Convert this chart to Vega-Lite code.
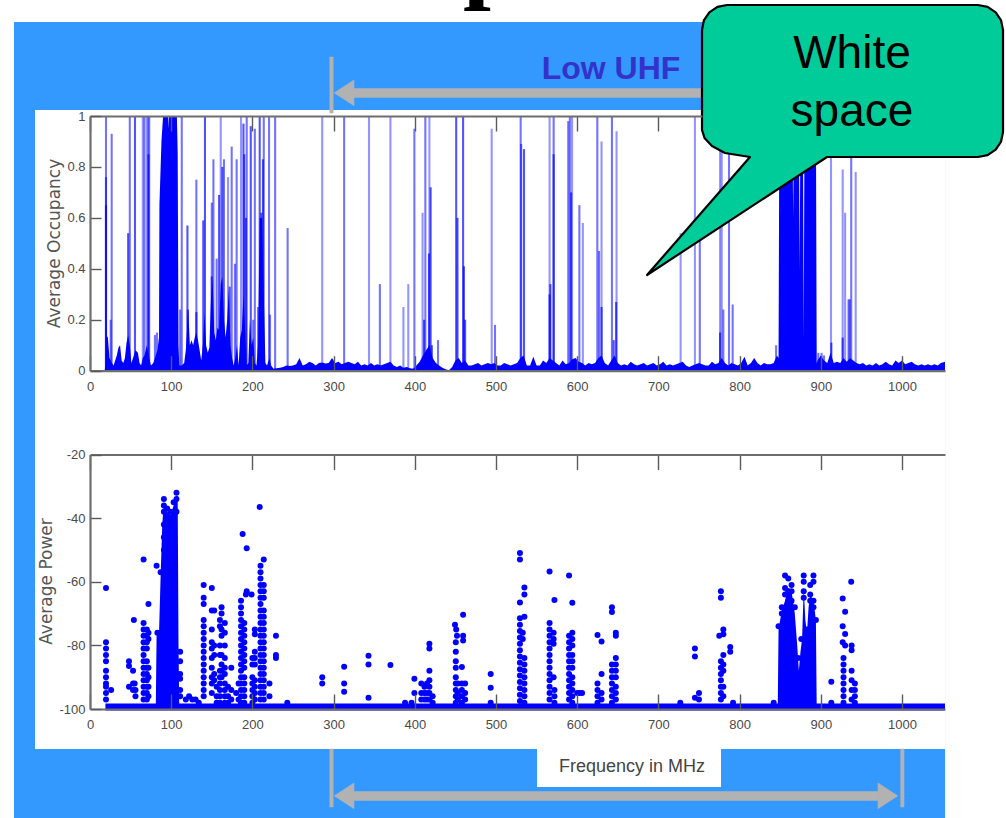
{"$schema":"https://vega.github.io/schema/vega-lite/v6.json","width":1006,"height":818,"padding":0,"autosize":{"type":"none"},"background":"#ffffff","config":{"view":{"stroke":null},"axis":{"grid":false,"labelFlush":false,"domainColor":"#6e6e6e","domainWidth":2.2,"tickColor":"#5a5a5a","tickWidth":1.4,"labelColor":"#4a4a4a","labelFont":"Liberation Sans","labelFontSize":13,"titleColor":"#555555","titleFont":"DejaVu Sans","titleFontSize":17,"titleFontWeight":"normal"}},
"datasets":{
"panels":[{"n":"page","x":-93.6,"x2":1053,"y":1.369,"y2":-1.7562},{"n":"plot","x":-67.7,"x2":1053,"y":1.0236,"y2":-1.4853},{"n":"label","x":550.5,"x2":777.1,"y":-1.4853,"y2":-1.6344}],
"guides":[
{"s":"v1","i":1,"x":295,"y":1.2317},{"s":"v1","i":2,"x":299.5,"y":1.2317},{"s":"v1","i":3,"x":299.5,"y":1.0118},{"s":"v1","i":4,"x":295,"y":1.0118},
{"s":"v2","i":1,"x":295,"y":-1.4853},{"s":"v2","i":2,"x":299.5,"y":-1.4853},{"s":"v2","i":3,"x":299.5,"y":-1.713},{"s":"v2","i":4,"x":295,"y":-1.713},
{"s":"v3","i":1,"x":998,"y":-1.4853},{"s":"v3","i":2,"x":1002.5,"y":-1.4853},{"s":"v3","i":3,"x":1002.5,"y":-1.713},{"s":"v3","i":4,"x":998,"y":-1.713},
{"s":"s1","i":1,"x":325,"y":1.108},{"s":"s1","i":2,"x":780,"y":1.108},{"s":"s1","i":3,"x":780,"y":1.0727},{"s":"s1","i":4,"x":325,"y":1.0727},
{"s":"s2","i":1,"x":325,"y":-1.6522},{"s":"s2","i":2,"x":971,"y":-1.6522},{"s":"s2","i":3,"x":971,"y":-1.6875},{"s":"s2","i":4,"x":325,"y":-1.6875},
{"s":"h1","i":1,"x":300.5,"y":1.0903},{"s":"h1","i":2,"x":325.1,"y":1.1413},{"s":"h1","i":3,"x":325.1,"y":1.0393},
{"s":"h2","i":1,"x":300.5,"y":-1.6696},{"s":"h2","i":2,"x":325.1,"y":-1.6184},{"s":"h2","i":3,"x":325.1,"y":-1.7208},
{"s":"h3","i":1,"x":995.1,"y":-1.6696},{"s":"h3","i":2,"x":970.4,"y":-1.6184},{"s":"h3","i":3,"x":970.4,"y":-1.7208}],
"callout":[{"i":1,"x":784.5,"y":1.4358},{"i":2,"x":1093.6,"y":1.4358},{"i":3,"x":1105.4,"y":1.4283},{"i":4,"x":1115.4,"y":1.4071},{"i":5,"x":1122,"y":1.3754},{"i":6,"x":1124.4,"y":1.3376},{"i":7,"x":1124.4,"y":0.9372},{"i":8,"x":1122,"y":0.8995},{"i":9,"x":1115.4,"y":0.8677},{"i":10,"x":1105.4,"y":0.8465},{"i":11,"x":1093.6,"y":0.839},{"i":12,"x":907.6,"y":0.839},{"i":13,"x":686,"y":0.3757},{"i":14,"x":812.8,"y":0.839},{"i":15,"x":782,"y":0.8547},{"i":16,"x":766,"y":0.8822},{"i":17,"x":756.8,"y":0.9136},{"i":18,"x":753.7,"y":0.945},{"i":19,"x":753.7,"y":1.3376},{"i":20,"x":756,"y":1.3754},{"i":21,"x":762.7,"y":1.4071},{"i":22,"x":772.7,"y":1.4283},{"i":23,"x":784.5,"y":1.4358}],
"occSpikes":[{"f":19.7,"o":1,"k":"b"},{"f":19.7,"o":0.76,"k":"b"},{"f":19.7,"o":0.65,"k":"c"},{"f":25.5,"o":0.2,"k":"b"},{"f":26.7,"o":0.93,"k":"b"},{"f":47,"o":0.54,"k":"c"},{"f":49,"o":1,"k":"b"},{"f":55.4,"o":1,"k":"c"},{"f":65,"o":1,"k":"a"},{"f":67,"o":1,"k":"b"},{"f":70,"o":1,"k":"a"},{"f":72,"o":1,"k":"b"},{"f":72,"o":0.85,"k":"c"},{"f":73,"o":1,"k":"a"},{"f":80,"o":0.14,"k":"b"},{"f":82.5,"o":0.15,"k":"b"},{"f":111,"o":0.24,"k":"b"},{"f":113,"o":1,"k":"b"},{"f":120,"o":0.57,"k":"c"},{"f":120.5,"o":0.24,"k":"c"},{"f":131,"o":0.75,"k":"b"},{"f":131,"o":0.23,"k":"c"},{"f":139.5,"o":0.59,"k":"c"},{"f":141.6,"o":1,"k":"c"},{"f":150,"o":0.66,"k":"b"},{"f":150,"o":0.37,"k":"c"},{"f":152,"o":0.83,"k":"b"},{"f":156,"o":0.44,"k":"b"},{"f":159,"o":0.69,"k":"c"},{"f":161,"o":1,"k":"a"},{"f":163,"o":0.8,"k":"c"},{"f":165,"o":0.83,"k":"b"},{"f":170,"o":0.76,"k":"a"},{"f":172,"o":0.33,"k":"c"},{"f":174.5,"o":0.88,"k":"b"},{"f":178.5,"o":0.42,"k":"b"},{"f":180.6,"o":0.83,"k":"b"},{"f":186,"o":1,"k":"a"},{"f":189,"o":0.97,"k":"c"},{"f":190,"o":0.85,"k":"c"},{"f":192,"o":0.6,"k":"c"},{"f":193,"o":1,"k":"b"},{"f":198,"o":0.96,"k":"c"},{"f":201,"o":0.2,"k":"b"},{"f":203,"o":0.95,"k":"b"},{"f":207,"o":0.25,"k":"b"},{"f":209,"o":1,"k":"c"},{"f":211,"o":0.62,"k":"c"},{"f":213,"o":0.83,"k":"c"},{"f":214,"o":1,"k":"b"},{"f":220.5,"o":1,"k":"b"},{"f":221.7,"o":0.22,"k":"b"},{"f":228,"o":1,"k":"b"},{"f":243.4,"o":0.56,"k":"b"},{"f":286,"o":1,"k":"a"},{"f":313,"o":1,"k":"b"},{"f":343.6,"o":1,"k":"a"},{"f":370,"o":1,"k":"a"},{"f":357,"o":0.34,"k":"b"},{"f":386,"o":0.25,"k":"a"},{"f":392,"o":0.34,"k":"a"},{"f":399.5,"o":0.95,"k":"b"},{"f":409.6,"o":0.62,"k":"a"},{"f":411.5,"o":0.2,"k":"c"},{"f":413,"o":1,"k":"b"},{"f":417.5,"o":0.46,"k":"c"},{"f":418,"o":1,"k":"a"},{"f":419.5,"o":0.72,"k":"c"},{"f":421,"o":0.1,"k":"c"},{"f":428.6,"o":0.12,"k":"b"},{"f":451,"o":1,"k":"c"},{"f":452.6,"o":0.6,"k":"c"},{"f":459.5,"o":1,"k":"c"},{"f":460.5,"o":0.41,"k":"c"},{"f":462,"o":0.2,"k":"c"},{"f":494.7,"o":0.95,"k":"a"},{"f":498.8,"o":0.18,"k":"b"},{"f":530.4,"o":1,"k":"b"},{"f":531,"o":0.89,"k":"b"},{"f":534.5,"o":0.87,"k":"c"},{"f":566,"o":0.3,"k":"c"},{"f":566,"o":1,"k":"a"},{"f":567,"o":0.34,"k":"c"},{"f":571,"o":1,"k":"b"},{"f":571,"o":0.85,"k":"c"},{"f":589,"o":0.98,"k":"b"},{"f":591,"o":1,"k":"b"},{"f":592.5,"o":0.7,"k":"c"},{"f":593.7,"o":1,"k":"a"},{"f":602.7,"o":0.65,"k":"b"},{"f":607,"o":0.58,"k":"a"},{"f":624.8,"o":1,"k":"b"},{"f":626.9,"o":0.47,"k":"b"},{"f":630,"o":0.9,"k":"a"},{"f":630,"o":0.25,"k":"c"},{"f":642.8,"o":1,"k":"b"},{"f":645,"o":0.12,"k":"c"},{"f":648,"o":0.27,"k":"c"},{"f":648.5,"o":0.94,"k":"a"},{"f":727.4,"o":0.54,"k":"a"},{"f":745,"o":1,"k":"a"},{"f":751,"o":0.55,"k":"b"},{"f":776,"o":1,"k":"a"},{"f":776,"o":0.15,"k":"c"},{"f":778,"o":1,"k":"a"},{"f":780,"o":0.24,"k":"b"},{"f":787,"o":1,"k":"b"},{"f":791.5,"o":0.26,"k":"b"},{"f":845,"o":0.1,"k":"b"},{"f":897,"o":0.07,"k":"b"},{"f":901,"o":0.07,"k":"b"},{"f":904,"o":0.06,"k":"b"},{"f":912.6,"o":1,"k":"a"},{"f":913,"o":0.11,"k":"c"},{"f":927,"o":0.79,"k":"a"},{"f":927,"o":0.13,"k":"c"},{"f":930,"o":0.62,"k":"a"},{"f":934,"o":0.28,"k":"a"},{"f":935,"o":0.28,"k":"a"},{"f":936,"o":0.28,"k":"a"},{"f":937.5,"o":1,"k":"b"},{"f":943,"o":0.78,"k":"a"}],
"occFloor":[{"f":18,"o":0},{"f":19,"o":0.02},{"f":20,"o":0.14},{"f":22,"o":0.13},{"f":24,"o":0.05},{"f":27,"o":0.03},{"f":29,"o":0.02},{"f":31,"o":0.04},{"f":33,"o":0.06},{"f":35,"o":0.09},{"f":37,"o":0.1},{"f":39,"o":0.04},{"f":41,"o":0.03},{"f":43,"o":0.05},{"f":45,"o":0.11},{"f":47,"o":0.14},{"f":49,"o":0.1},{"f":51,"o":0.03},{"f":53,"o":0.05},{"f":56,"o":0.08},{"f":59,"o":0.07},{"f":61,"o":0.03},{"f":63,"o":0.02},{"f":65,"o":0.05},{"f":67,"o":0.06},{"f":70,"o":0.1},{"f":73,"o":0.05},{"f":75,"o":0.02},{"f":78,"o":0.03},{"f":80,"o":0.05},{"f":83,"o":0.08},{"f":85,"o":0.13},{"f":85.5,"o":0.65},{"f":88,"o":0.9},{"f":90,"o":1},{"f":96,"o":1},{"f":96.5,"o":0.95},{"f":97,"o":1},{"f":107,"o":1},{"f":108,"o":0.85},{"f":109,"o":0.1},{"f":110,"o":0.02},{"f":113,"o":0.02},{"f":116,"o":0.03},{"f":118,"o":0.08},{"f":121,"o":0.24},{"f":123,"o":0.1},{"f":125,"o":0.12},{"f":127,"o":0.1},{"f":129,"o":0.13},{"f":131,"o":0.15},{"f":133,"o":0.12},{"f":135,"o":0.08},{"f":137,"o":0.04},{"f":139,"o":0.1},{"f":141,"o":0.23},{"f":143,"o":0.1},{"f":145,"o":0.07},{"f":147,"o":0.09},{"f":149,"o":0.28},{"f":151,"o":0.36},{"f":153,"o":0.15},{"f":155,"o":0.12},{"f":157,"o":0.17},{"f":159,"o":0.16},{"f":161,"o":0.34},{"f":163,"o":0.37},{"f":165,"o":0.2},{"f":167,"o":0.13},{"f":169,"o":0.2},{"f":171,"o":0.32},{"f":173,"o":0.1},{"f":175,"o":0.05},{"f":177,"o":0.02},{"f":179,"o":0.05},{"f":181,"o":0.1},{"f":183,"o":0.02},{"f":185,"o":0.13},{"f":187,"o":0.16},{"f":189,"o":0.3},{"f":191,"o":0.16},{"f":193,"o":0.02},{"f":195,"o":0.03},{"f":197,"o":0.2},{"f":199,"o":0.1},{"f":201,"o":0.13},{"f":203,"o":0.03},{"f":205,"o":0.02},{"f":207,"o":0.1},{"f":209,"o":0.6},{"f":212,"o":0.6},{"f":214,"o":0.3},{"f":216,"o":0.03},{"f":218,"o":0.02},{"f":221,"o":0.05},{"f":223,"o":0.02},{"f":226,"o":0.008},{"f":230,"o":0.01},{"f":234,"o":0.012},{"f":238,"o":0.015},{"f":242,"o":0.02},{"f":246,"o":0.018},{"f":250,"o":0.02},{"f":254,"o":0.025},{"f":258,"o":0.05},{"f":262,"o":0.02},{"f":266,"o":0.025},{"f":270,"o":0.035},{"f":274,"o":0.03},{"f":278,"o":0.02},{"f":282,"o":0.03},{"f":286,"o":0.032},{"f":290,"o":0.028},{"f":294,"o":0.03},{"f":298,"o":0.05},{"f":302,"o":0.03},{"f":306,"o":0.035},{"f":310,"o":0.025},{"f":314,"o":0.03},{"f":318,"o":0.035},{"f":322,"o":0.03},{"f":326,"o":0.025},{"f":330,"o":0.035},{"f":334,"o":0.02},{"f":338,"o":0.025},{"f":342,"o":0.02},{"f":346,"o":0.03},{"f":350,"o":0.02},{"f":354,"o":0.025},{"f":358,"o":0.02},{"f":362,"o":0.025},{"f":366,"o":0.03},{"f":370,"o":0.035},{"f":374,"o":0.02},{"f":378,"o":0.015},{"f":382,"o":0.02},{"f":386,"o":0.012},{"f":390,"o":0.015},{"f":394,"o":0.01},{"f":398,"o":0.008},{"f":402,"o":0.02},{"f":406,"o":0.035},{"f":410,"o":0.06},{"f":414,"o":0.08},{"f":418,"o":0.1},{"f":422,"o":0.05},{"f":426,"o":0.03},{"f":430,"o":0.02},{"f":434,"o":0.012},{"f":438,"o":0.006},{"f":442,"o":0.002},{"f":446,"o":0.015},{"f":450,"o":0.04},{"f":454,"o":0.05},{"f":458,"o":0.03},{"f":462,"o":0.04},{"f":466,"o":0.02},{"f":470,"o":0.02},{"f":474,"o":0.025},{"f":478,"o":0.03},{"f":482,"o":0.02},{"f":486,"o":0.025},{"f":490,"o":0.03},{"f":494,"o":0.025},{"f":498,"o":0.03},{"f":502,"o":0.02},{"f":506,"o":0.02},{"f":510,"o":0.03},{"f":514,"o":0.025},{"f":518,"o":0.02},{"f":522,"o":0.025},{"f":526,"o":0.03},{"f":530,"o":0.05},{"f":534,"o":0.06},{"f":538,"o":0.02},{"f":542,"o":0.02},{"f":546,"o":0.055},{"f":550,"o":0.02},{"f":554,"o":0.02},{"f":558,"o":0.04},{"f":562,"o":0.03},{"f":566,"o":0.05},{"f":570,"o":0.04},{"f":574,"o":0.03},{"f":578,"o":0.02},{"f":582,"o":0.04},{"f":586,"o":0.025},{"f":590,"o":0.03},{"f":594,"o":0.045},{"f":598,"o":0.05},{"f":602,"o":0.035},{"f":606,"o":0.03},{"f":610,"o":0.02},{"f":614,"o":0.03},{"f":618,"o":0.025},{"f":622,"o":0.03},{"f":626,"o":0.05},{"f":630,"o":0.06},{"f":634,"o":0.03},{"f":638,"o":0.02},{"f":642,"o":0.04},{"f":646,"o":0.06},{"f":650,"o":0.03},{"f":654,"o":0.02},{"f":658,"o":0.025},{"f":662,"o":0.02},{"f":666,"o":0.035},{"f":670,"o":0.025},{"f":674,"o":0.02},{"f":678,"o":0.025},{"f":682,"o":0.03},{"f":686,"o":0.02},{"f":690,"o":0.025},{"f":694,"o":0.03},{"f":698,"o":0.02},{"f":702,"o":0.025},{"f":706,"o":0.035},{"f":710,"o":0.02},{"f":714,"o":0.025},{"f":718,"o":0.02},{"f":722,"o":0.025},{"f":726,"o":0.03},{"f":730,"o":0.035},{"f":734,"o":0.02},{"f":738,"o":0.015},{"f":742,"o":0.02},{"f":746,"o":0.025},{"f":750,"o":0.03},{"f":754,"o":0.025},{"f":758,"o":0.02},{"f":762,"o":0.02},{"f":766,"o":0.035},{"f":770,"o":0.025},{"f":774,"o":0.03},{"f":778,"o":0.05},{"f":782,"o":0.03},{"f":786,"o":0.02},{"f":790,"o":0.03},{"f":794,"o":0.025},{"f":798,"o":0.02},{"f":802,"o":0.03},{"f":806,"o":0.055},{"f":810,"o":0.02},{"f":814,"o":0.03},{"f":818,"o":0.05},{"f":822,"o":0.03},{"f":826,"o":0.02},{"f":830,"o":0.03},{"f":834,"o":0.025},{"f":838,"o":0.025},{"f":842,"o":0.03},{"f":846,"o":0.06},{"f":848,"o":0.05},{"f":849,"o":1},{"f":865,"o":1},{"f":866,"o":0.6},{"f":867,"o":1},{"f":873,"o":1},{"f":874,"o":0.39},{"f":875,"o":1},{"f":878,"o":1},{"f":879,"o":0.12},{"f":880,"o":1},{"f":894,"o":1},{"f":895,"o":0.03},{"f":896,"o":0.04},{"f":900,"o":0.06},{"f":904,"o":0.04},{"f":908,"o":0.03},{"f":912,"o":0.07},{"f":916,"o":0.03},{"f":920,"o":0.035},{"f":924,"o":0.03},{"f":928,"o":0.05},{"f":932,"o":0.035},{"f":936,"o":0.05},{"f":940,"o":0.04},{"f":944,"o":0.03},{"f":948,"o":0.025},{"f":952,"o":0.03},{"f":956,"o":0.02},{"f":960,"o":0.025},{"f":964,"o":0.02},{"f":968,"o":0.03},{"f":972,"o":0.02},{"f":976,"o":0.025},{"f":980,"o":0.035},{"f":984,"o":0.025},{"f":988,"o":0.02},{"f":992,"o":0.04},{"f":996,"o":0.03},{"f":1000,"o":0.04},{"f":1004,"o":0.025},{"f":1008,"o":0.03},{"f":1012,"o":0.035},{"f":1016,"o":0.025},{"f":1020,"o":0.02},{"f":1024,"o":0.025},{"f":1028,"o":0.02},{"f":1032,"o":0.025},{"f":1036,"o":0.02},{"f":1040,"o":0.025},{"f":1044,"o":0.02},{"f":1048,"o":0.03},{"f":1053,"o":0.035}],
"powerBase":[{"f":19,"p":-99.4},{"f":1053,"p":-99.4}],
"powerBlocks":[{"f":81,"p":-100},{"f":82,"p":-77},{"f":85,"p":-76},{"f":87,"p":-58},{"f":89,"p":-42},{"f":91,"p":-35},{"f":95,"p":-38},{"f":99,"p":-39},{"f":103,"p":-36},{"f":106.5,"p":-33},{"f":108,"p":-33},{"f":109,"p":-80},{"f":110,"p":-100},{"f":847,"p":-100},{"f":848,"p":-75},{"f":852,"p":-69},{"f":856,"p":-66},{"f":860,"p":-62},{"f":864,"p":-63},{"f":868,"p":-70},{"f":871,"p":-80},{"f":873,"p":-88},{"f":875,"p":-82},{"f":877,"p":-78},{"f":879,"p":-62},{"f":881,"p":-72},{"f":883,"p":-76},{"f":885,"p":-68},{"f":887,"p":-64},{"f":891,"p":-66},{"f":894,"p":-72},{"f":895,"p":-100}],
"power":[{"f":19.7,"p":-62},{"f":19.7,"p":-79},{"f":19.7,"p":-81},{"f":19.7,"p":-83},{"f":19.7,"p":-85},{"f":19.7,"p":-88},{"f":19.7,"p":-90},{"f":19.7,"p":-92},{"f":19.7,"p":-93},{"f":19.7,"p":-95},{"f":19.7,"p":-97},{"f":26,"p":-94},{"f":48,"p":-85},{"f":48,"p":-86.5},{"f":48,"p":-93},{"f":53,"p":-88},{"f":53,"p":-92},{"f":53,"p":-94},{"f":54,"p":-72},{"f":55,"p":-92},{"f":56,"p":-94},{"f":56,"p":-96},{"f":66,"p":-53},{"f":66,"p":-73},{"f":66,"p":-75},{"f":66,"p":-77},{"f":66,"p":-79},{"f":66,"p":-81},{"f":66,"p":-83},{"f":66,"p":-85},{"f":66,"p":-87},{"f":66,"p":-89},{"f":66,"p":-91},{"f":66,"p":-93},{"f":66,"p":-95},{"f":66,"p":-97},{"f":70,"p":-75},{"f":70,"p":-77},{"f":70,"p":-79},{"f":70,"p":-81},{"f":70,"p":-85},{"f":70,"p":-87},{"f":70,"p":-89},{"f":70,"p":-91},{"f":70,"p":-93},{"f":70,"p":-95},{"f":70,"p":-97},{"f":72,"p":-67},{"f":72,"p":-76},{"f":72,"p":-78},{"f":72,"p":-87},{"f":72,"p":-90},{"f":72,"p":-93},{"f":72,"p":-96},{"f":82,"p":-55},
{"f":83,"p":-76},{"f":87,"p":-57},{"f":91,"p":-34},{"f":91,"p":-36},{"f":91,"p":-38},{"f":91,"p":-42},{"f":91,"p":-46},{"f":91,"p":-50},{"f":95,"p":-37},{"f":95,"p":-41},{"f":95,"p":-45},{"f":99,"p":-38},{"f":99,"p":-42},{"f":103,"p":-35},{"f":103,"p":-39},{"f":106.5,"p":-32},{"f":106.5,"p":-34},{"f":106.5,"p":-38},
{"f":111,"p":-82},{"f":111,"p":-85},{"f":111,"p":-89},{"f":111,"p":-90.5},{"f":111,"p":-94},{"f":111,"p":-96},{"f":118,"p":-97},{"f":122,"p":-96},{"f":126,"p":-97},{"f":130,"p":-97},{"f":134,"p":-98},
{"f":140,"p":-61},{"f":140,"p":-65},{"f":140,"p":-67},{"f":140,"p":-72},{"f":140,"p":-74},{"f":140,"p":-76},{"f":140,"p":-78},{"f":140,"p":-80},{"f":140,"p":-82},{"f":140,"p":-84},{"f":140,"p":-86},{"f":140,"p":-88},{"f":140,"p":-90},{"f":140,"p":-92},{"f":140,"p":-94},{"f":140,"p":-96},
{"f":150,"p":-62},{"f":150,"p":-69},{"f":150,"p":-75},{"f":150,"p":-79},{"f":150,"p":-81},{"f":150,"p":-84},{"f":150,"p":-87},{"f":150,"p":-90},{"f":150,"p":-92},{"f":150,"p":-95},{"f":153,"p":-69},{"f":153,"p":-80},{"f":153,"p":-83},{"f":153,"p":-89},{"f":153,"p":-91},{"f":156,"p":-93},{"f":156,"p":-96},{"f":156,"p":-98},
{"f":160,"p":-72},{"f":160,"p":-74},{"f":160,"p":-80},{"f":160,"p":-83},{"f":160,"p":-88},{"f":160,"p":-90},{"f":160,"p":-92},{"f":160,"p":-94},{"f":160,"p":-96},{"f":160,"p":-98},{"f":162,"p":-68},{"f":162,"p":-70},{"f":162,"p":-75},{"f":162,"p":-77},{"f":162,"p":-83},{"f":162,"p":-86},{"f":162,"p":-88},{"f":162,"p":-90},{"f":166,"p":-73},{"f":166,"p":-76},{"f":166,"p":-80},{"f":166,"p":-84},{"f":166,"p":-87},{"f":166,"p":-89},{"f":166,"p":-92},{"f":166,"p":-94},{"f":166,"p":-96},{"f":166,"p":-98},{"f":170,"p":-93},{"f":170,"p":-96},{"f":170,"p":-98},{"f":174,"p":-87},{"f":174,"p":-94},{"f":174,"p":-97},{"f":180,"p":-95},{"f":183,"p":-92},{"f":183,"p":-97},
{"f":186,"p":-66},{"f":186,"p":-68},{"f":186,"p":-70},{"f":186,"p":-72},{"f":186,"p":-74},{"f":186,"p":-76},{"f":186,"p":-78},{"f":186,"p":-80},{"f":186,"p":-82},{"f":186,"p":-84},{"f":186,"p":-86},{"f":186,"p":-88},{"f":186,"p":-90},{"f":186,"p":-92},{"f":186,"p":-94},{"f":186,"p":-96},{"f":186,"p":-98},{"f":188,"p":-45},{"f":190,"p":-73},{"f":190,"p":-75},{"f":190,"p":-77},{"f":190,"p":-79},{"f":190,"p":-81},{"f":190,"p":-83},{"f":190,"p":-85},{"f":190,"p":-87},{"f":190,"p":-90},{"f":190,"p":-92},{"f":190,"p":-94},{"f":190,"p":-96},{"f":190,"p":-98},{"f":192,"p":-64},{"f":193,"p":-49.5},{"f":193,"p":-63},{"f":199,"p":-64},{"f":200,"p":-84},{"f":200,"p":-86},{"f":200,"p":-90},{"f":200,"p":-92},{"f":200,"p":-94},{"f":200,"p":-96},{"f":200,"p":-98},{"f":203,"p":-75},{"f":203,"p":-76.5},{"f":203,"p":-82},{"f":203,"p":-84},{"f":203,"p":-86},{"f":203,"p":-91},{"f":203,"p":-93},{"f":203,"p":-95},{"f":203,"p":-97},{"f":209,"p":-36.5},
{"f":210,"p":-55},{"f":210,"p":-57},{"f":210,"p":-59},{"f":210,"p":-61},{"f":210,"p":-63},{"f":210,"p":-65},{"f":210,"p":-67},{"f":210,"p":-69},{"f":210,"p":-71},{"f":210,"p":-73},{"f":210,"p":-75},{"f":210,"p":-77},{"f":210,"p":-79},{"f":210,"p":-81},{"f":210,"p":-83},{"f":210,"p":-85},{"f":210,"p":-87},{"f":210,"p":-89},{"f":210,"p":-91},{"f":210,"p":-93},{"f":210,"p":-95},{"f":210,"p":-97},{"f":214,"p":-53},{"f":214,"p":-61},{"f":214,"p":-63},{"f":214,"p":-65},{"f":214,"p":-69},{"f":214,"p":-71},{"f":214,"p":-73},{"f":214,"p":-75},{"f":214,"p":-77},{"f":214,"p":-79},{"f":214,"p":-81},{"f":214,"p":-83},{"f":214,"p":-85},{"f":214,"p":-87},{"f":214,"p":-89},{"f":214,"p":-91},{"f":214,"p":-93},{"f":214,"p":-95},{"f":214,"p":-97},
{"f":221,"p":-92},{"f":221,"p":-96},{"f":229,"p":-77},{"f":229,"p":-83},{"f":229,"p":-84},{"f":243,"p":-98},{"f":286,"p":-90},{"f":286,"p":-92},{"f":313,"p":-86.7},{"f":313,"p":-92},{"f":313,"p":-94.6},{"f":343,"p":-83.3},{"f":343,"p":-86},{"f":343,"p":-96.5},{"f":370,"p":-86.2},{"f":399.5,"p":-90.5},{"f":399.5,"p":-95},{"f":388,"p":-98},{"f":396,"p":-98},
{"f":408,"p":-92},{"f":408,"p":-95},{"f":408,"p":-97},{"f":412,"p":-93},{"f":412,"p":-95},{"f":412,"p":-97},{"f":415,"p":-92},{"f":415,"p":-95},{"f":415,"p":-97},{"f":418,"p":-79.5},{"f":418,"p":-81},{"f":418,"p":-88},{"f":418,"p":-91},{"f":418,"p":-93},{"f":418,"p":-95},{"f":418,"p":-97},{"f":422,"p":-96},{"f":422,"p":-98},
{"f":449.5,"p":-73.5},{"f":451,"p":-75},{"f":452,"p":-77},{"f":450.5,"p":-79},{"f":450.5,"p":-82},{"f":450.5,"p":-85},{"f":450.5,"p":-87},{"f":450.5,"p":-90},{"f":450.5,"p":-92},{"f":450.5,"p":-94},{"f":450.5,"p":-96},{"f":450.5,"p":-98},{"f":453,"p":-92},{"f":453,"p":-95},{"f":453,"p":-97},{"f":459.5,"p":-70.4},{"f":459.5,"p":-77},{"f":459.5,"p":-78.5},{"f":458,"p":-86.8},{"f":458,"p":-92},{"f":458,"p":-94},{"f":458,"p":-96},{"f":458,"p":-98},{"f":462,"p":-92},{"f":462,"p":-95},{"f":462,"p":-97},{"f":493.5,"p":-89},{"f":493.5,"p":-93.3},{"f":493.5,"p":-98},
{"f":529.5,"p":-51},{"f":529.5,"p":-53},{"f":529.5,"p":-66.5},{"f":529.5,"p":-71.5},{"f":529.5,"p":-73.5},{"f":529.5,"p":-75.5},{"f":529.5,"p":-77.5},{"f":529.5,"p":-79.5},{"f":529.5,"p":-81.5},{"f":529.5,"p":-83.5},{"f":529.5,"p":-85.5},{"f":529.5,"p":-87.5},{"f":529.5,"p":-89.5},{"f":529.5,"p":-91.5},{"f":529.5,"p":-93.5},{"f":529.5,"p":-95.5},{"f":529.5,"p":-97.5},{"f":535,"p":-61.8},{"f":535,"p":-64},{"f":535,"p":-71},{"f":533,"p":-76},{"f":533,"p":-78},{"f":535,"p":-84},{"f":535,"p":-86},{"f":535,"p":-88},{"f":535,"p":-90},{"f":535,"p":-92},{"f":535,"p":-94},{"f":535,"p":-96},{"f":535,"p":-98},
{"f":566,"p":-56.8},{"f":566,"p":-73},{"f":566,"p":-75},{"f":566,"p":-77},{"f":566,"p":-79},{"f":566,"p":-81},{"f":566,"p":-83},{"f":566,"p":-85},{"f":566,"p":-87},{"f":566,"p":-89},{"f":566,"p":-91},{"f":566,"p":-93},{"f":566,"p":-95},{"f":566,"p":-97},{"f":572,"p":-65.7},{"f":571,"p":-76},{"f":571,"p":-78},{"f":571,"p":-79.5},{"f":571,"p":-90},{"f":572,"p":-94},{"f":572,"p":-96},{"f":572,"p":-98},
{"f":590,"p":-58},{"f":590,"p":-77},{"f":590,"p":-79},{"f":590,"p":-81},{"f":590,"p":-83},{"f":590,"p":-85},{"f":590,"p":-87},{"f":590,"p":-89},{"f":590,"p":-91},{"f":590,"p":-93},{"f":590,"p":-95},{"f":590,"p":-97},{"f":594,"p":-66.6},{"f":594,"p":-76},{"f":594,"p":-78},{"f":594,"p":-80},{"f":594,"p":-83},{"f":594,"p":-85},{"f":594,"p":-87},{"f":594,"p":-90},{"f":594,"p":-92},{"f":594,"p":-94},{"f":594,"p":-96},{"f":594,"p":-98},{"f":600,"p":-95},{"f":603,"p":-95},{"f":606,"p":-95},
{"f":625,"p":-76.7},{"f":625,"p":-92},{"f":625,"p":-94},{"f":625,"p":-96},{"f":625,"p":-98},{"f":630,"p":-78.8},{"f":630,"p":-89},{"f":630,"p":-95},{"f":630,"p":-97},{"f":642.8,"p":-68},{"f":642.8,"p":-69.5},{"f":642.8,"p":-86},{"f":642.8,"p":-88},{"f":642.8,"p":-90},{"f":642.8,"p":-92},{"f":642.8,"p":-94},{"f":642.8,"p":-96},{"f":642.8,"p":-98},{"f":647.6,"p":-76},{"f":647.6,"p":-77},{"f":647.6,"p":-84},{"f":647.6,"p":-86},{"f":647.6,"p":-88},{"f":647.6,"p":-90},{"f":647.6,"p":-93},{"f":647.6,"p":-95},{"f":647.6,"p":-97},
{"f":727,"p":-98},{"f":745,"p":-81},{"f":745,"p":-83.5},{"f":745,"p":-96.5},{"f":750,"p":-95},{"f":750,"p":-97},{"f":777,"p":-63},{"f":777,"p":-65},{"f":775,"p":-77},{"f":777,"p":-85},{"f":777,"p":-87},{"f":777,"p":-89},{"f":777,"p":-91},{"f":777,"p":-93},{"f":777,"p":-95},{"f":777,"p":-97},{"f":780,"p":-75},{"f":780,"p":-76.5},{"f":780,"p":-83},{"f":780,"p":-86},{"f":780,"p":-88},{"f":780,"p":-93},{"f":780,"p":-96},{"f":788.5,"p":-80.5},{"f":788.5,"p":-82},{"f":792,"p":-98},{"f":842,"p":-98},
{"f":848,"p":-74},{"f":852,"p":-68},{"f":852,"p":-70},{"f":856,"p":-58},{"f":856,"p":-62},{"f":856,"p":-64},{"f":856,"p":-69},{"f":860,"p":-59},{"f":860,"p":-63},{"f":860,"p":-66},{"f":864,"p":-61},{"f":864,"p":-63},{"f":864,"p":-66},{"f":868,"p":-68},{"f":872,"p":-84},{"f":876,"p":-78},{"f":879,"p":-58},{"f":879,"p":-60},{"f":879,"p":-63},{"f":879,"p":-65},{"f":883,"p":-75},{"f":887,"p":-61},{"f":887,"p":-64},{"f":887,"p":-66},{"f":891,"p":-58},{"f":891,"p":-60},{"f":891,"p":-66},{"f":891,"p":-68},{"f":894,"p":-72},
{"f":913,"p":-91.4},{"f":913,"p":-98},{"f":927,"p":-65.3},{"f":927,"p":-74},{"f":927,"p":-79},{"f":930,"p":-69.4},{"f":930,"p":-76.4},{"f":930,"p":-80},{"f":928,"p":-84},{"f":928,"p":-86},{"f":928,"p":-88},{"f":928,"p":-90},{"f":928,"p":-92},{"f":928,"p":-94},{"f":928,"p":-96},{"f":928,"p":-98},{"f":937.5,"p":-60},{"f":938,"p":-80},{"f":938,"p":-81.5},{"f":938,"p":-88},{"f":938,"p":-91},{"f":938,"p":-94},{"f":938,"p":-97},{"f":942,"p":-92},{"f":942,"p":-94},{"f":942,"p":-96},{"f":942,"p":-98}]
},
"layer":[
{"data":{"name":"panels"},"mark":{"type":"rect"},"encoding":{"x":{"field":"x","type":"quantitative","axis":null,"scale":{"domain":[-110.84,1128.08],"range":[0,1006],"nice":false,"zero":false}},"x2":{"field":"x2"},"y":{"field":"y","type":"quantitative","axis":null,"scale":{"domain":[-1.7562,1.4554],"range":[818,0],"nice":false,"zero":false}},"y2":{"field":"y2"},"color":{"field":"n","type":"nominal","legend":null,"scale":{"domain":["page","plot","label"],"range":["#3399ff","#ffffff","#ffffff"]}}}},
{"data":{"name":"occFloor"},"mark":{"type":"area","color":"#0000ff","opacity":1},"encoding":{"x":{"field":"f","type":"quantitative","scale":{"domain":[0,1053],"range":[90,945],"nice":false,"zero":false},"axis":{"zindex":1,"orient":"bottom","offset":-447.3,"values":[0,100,200,300,400,500,600,700,800,900,1000],"format":"d","title":null,"tickSize":-15,"labelPadding":25,"labelOverlap":false}},"y":{"field":"o","type":"quantitative","stack":null,"scale":{"domain":[0,1],"range":[370.7,116],"nice":false,"zero":false},"axis":{"zindex":1,"orient":"left","offset":-90,"values":[0,0.2,0.4,0.6,0.8,1],"labelExpr":"''+datum.value","tickSize":-11,"labelPadding":16,"title":"Average Occupancy","titleX":-27,"titleY":243,"titleAlign":"center"}},"y2":{"datum":0}}},
{"data":{"name":"occSpikes"},"mark":{"type":"rule","strokeWidth":2.1,"color":"#0000ff"},"encoding":{"x":{"field":"f","type":"quantitative","axis":null,"scale":{"domain":[0,1053],"range":[90,945],"nice":false,"zero":false}},"y":{"field":"o","type":"quantitative","axis":null,"scale":{"domain":[0,1],"range":[370.7,116],"nice":false,"zero":false}},"y2":{"datum":0},"opacity":{"field":"k","type":"nominal","legend":null,"scale":{"domain":["a","b","c"],"range":[0.42,0.68,1]}}}},
{"data":{"name":"powerBase"},"mark":{"type":"line","color":"#0000ff","strokeWidth":7,"strokeCap":"butt"},"encoding":{"x":{"field":"f","type":"quantitative","scale":{"domain":[0,1053],"range":[90,945],"nice":false,"zero":false},"axis":{"zindex":1,"orient":"bottom","offset":-109,"values":[0,100,200,300,400,500,600,700,800,900,1000],"format":"d","title":null,"tickSize":-15,"labelPadding":24,"labelOverlap":false}},"y":{"field":"p","type":"quantitative","scale":{"domain":[-100,-20],"range":[709,454.5],"nice":false,"zero":false},"axis":{"zindex":1,"orient":"left","offset":-90,"values":[-100,-80,-60,-40,-20],"labelExpr":"''+datum.value","tickSize":-11,"labelPadding":16,"title":"Average Power","titleX":-35,"titleY":581,"titleAlign":"center"}}}},
{"data":{"name":"powerBlocks"},"mark":{"type":"area","color":"#0000ff","opacity":1},"encoding":{"x":{"field":"f","type":"quantitative","axis":null,"scale":{"domain":[0,1053],"range":[90,945],"nice":false,"zero":false}},"y":{"field":"p","type":"quantitative","stack":null,"axis":null,"scale":{"domain":[-100,-20],"range":[709,454.5],"nice":false,"zero":false}},"y2":{"datum":-100}}},
{"data":{"name":"power"},"mark":{"type":"circle","size":36,"color":"#0000ff","opacity":1},"encoding":{"x":{"field":"f","type":"quantitative","scale":{"domain":[0,1053],"range":[90,945],"nice":false,"zero":false},"axis":{"zindex":1,"orient":"top","offset":-454.5,"values":[0,100,200,300,400,500,600,700,800,900,1000],"labels":false,"title":null,"tickSize":-15}},"y":{"field":"p","type":"quantitative","axis":null,"scale":{"domain":[-100,-20],"range":[709,454.5],"nice":false,"zero":false}}}},
{"data":{"values":[{"f":0,"o":0},{"f":700,"o":0}]},"mark":{"type":"point","opacity":0},"encoding":{"x":{"field":"f","type":"quantitative","scale":{"domain":[0,753.7],"range":[90,702],"nice":false,"zero":false},"axis":{"zindex":1,"orient":"top","offset":-116,"values":[0,100,200,300,400,500,600,700],"labels":false,"title":null,"tickSize":-15}},"y":{"field":"o","type":"quantitative","axis":null,"scale":{"domain":[0,1],"range":[370.7,116],"nice":false,"zero":false}}}},
{"data":{"name":"guides"},"mark":{"type":"line","fill":"#b2b2b2","stroke":"#b2b2b2","strokeWidth":0.5},"encoding":{"x":{"field":"x","type":"quantitative","axis":null,"scale":{"domain":[-110.84,1128.08],"range":[0,1006],"nice":false,"zero":false}},"y":{"field":"y","type":"quantitative","axis":null,"scale":{"domain":[-1.7562,1.4554],"range":[818,0],"nice":false,"zero":false}},"detail":{"field":"s"},"order":{"field":"i","type":"quantitative"}}},
{"data":{"values":[{"t":"Low UHF","x":641.6,"y":1.1453}]},"mark":{"type":"text","font":"Liberation Sans","fontWeight":"bold","fontSize":32,"color":"#3333cc","align":"center","baseline":"alphabetic"},"encoding":{"text":{"field":"t"},"x":{"field":"x","type":"quantitative","axis":null,"scale":{"domain":[-110.84,1128.08],"range":[0,1006],"nice":false,"zero":false}},"y":{"field":"y","type":"quantitative","axis":null,"scale":{"domain":[-1.7562,1.4554],"range":[818,0],"nice":false,"zero":false}}}},
{"data":{"values":[{"t":"Frequency in MHz","x":667.5,"y":-1.5756}]},"mark":{"type":"text","font":"Liberation Sans","fontSize":18,"color":"#444444","align":"center","baseline":"alphabetic"},"encoding":{"text":{"field":"t"},"x":{"field":"x","type":"quantitative","axis":null,"scale":{"domain":[-110.84,1128.08],"range":[0,1006],"nice":false,"zero":false}},"y":{"field":"y","type":"quantitative","axis":null,"scale":{"domain":[-1.7562,1.4554],"range":[818,0],"nice":false,"zero":false}}}},
{"data":{"values":[{"t":"p","x":459.4,"y":1.4947}]},"mark":{"type":"text","font":"Liberation Serif","fontWeight":"bold","fontSize":100,"color":"#000000","align":"left","baseline":"alphabetic"},"encoding":{"text":{"field":"t"},"x":{"field":"x","type":"quantitative","axis":null,"scale":{"domain":[-110.84,1128.08],"range":[0,1006],"nice":false,"zero":false}},"y":{"field":"y","type":"quantitative","axis":null,"scale":{"domain":[-1.7562,1.4554],"range":[818,0],"nice":false,"zero":false}}}},
{"data":{"name":"callout"},"mark":{"type":"line","fill":"#00cc99","stroke":"#000000","strokeWidth":2.2,"strokeJoin":"round"},"encoding":{"x":{"field":"x","type":"quantitative","axis":null,"scale":{"domain":[-110.84,1128.08],"range":[0,1006],"nice":false,"zero":false}},"y":{"field":"y","type":"quantitative","axis":null,"scale":{"domain":[-1.7562,1.4554],"range":[818,0],"nice":false,"zero":false}},"order":{"field":"i","type":"quantitative"}}},
{"data":{"values":[{"t":"White","x":938.4,"y":1.1885},{"t":"space","x":938.4,"y":0.9607}]},"mark":{"type":"text","font":"Liberation Sans","fontSize":46,"color":"#000000","align":"center","baseline":"alphabetic"},"encoding":{"text":{"field":"t"},"x":{"field":"x","type":"quantitative","axis":null,"scale":{"domain":[-110.84,1128.08],"range":[0,1006],"nice":false,"zero":false}},"y":{"field":"y","type":"quantitative","axis":null,"scale":{"domain":[-1.7562,1.4554],"range":[818,0],"nice":false,"zero":false}}}}
],
"resolve":{"scale":{"x":"independent","y":"independent","opacity":"independent","color":"independent"},"axis":{"x":"independent","y":"independent"}}}
